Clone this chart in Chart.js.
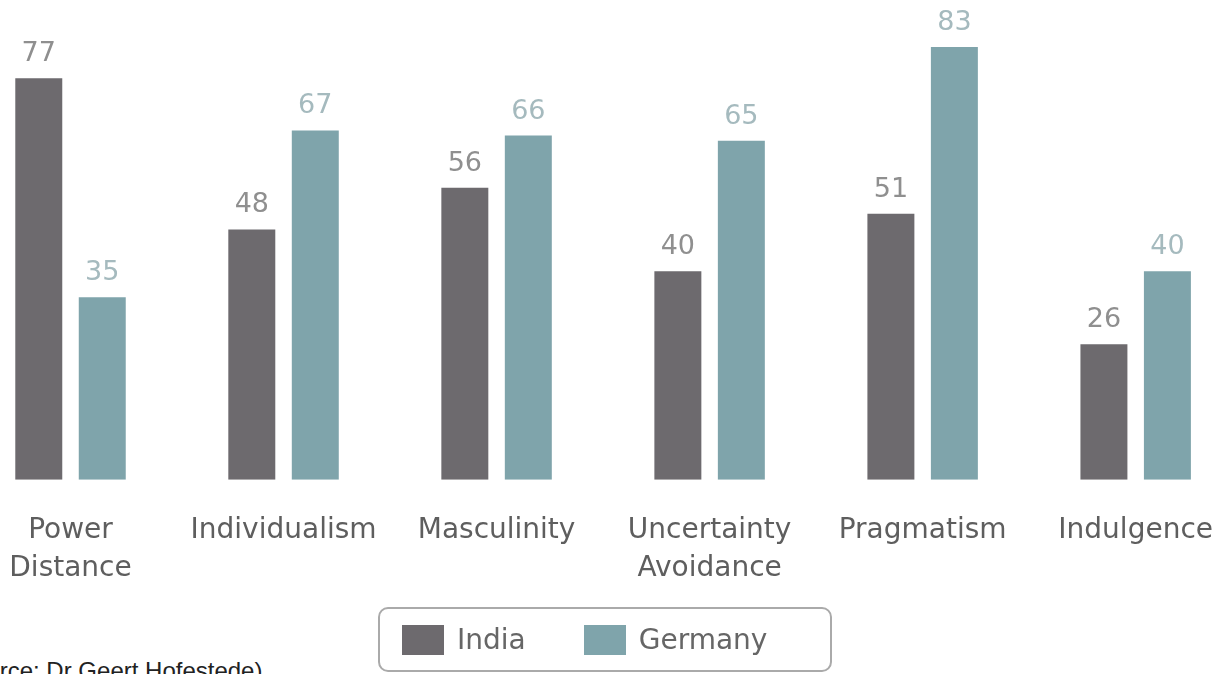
<!DOCTYPE html>
<html>
<head>
<meta charset="utf-8">
<script src="https://cdn.jsdelivr.net/npm/chart.js@4.4.1/dist/chart.umd.min.js"></script>
<style>
  html, body { margin: 0; padding: 0; background: #fff; overflow: hidden; }
  body { width: 1226px; height: 674px; position: relative; }
  #wrap { position: absolute; left: -36px; top: 0; width: 1281px; height: 632px; }
  #legend {
    position: absolute; left: 378px; top: 607px; width: 450px; height: 61px;
    border: 2px solid #aaa; border-radius: 10px;
    display: flex; align-items: center; box-sizing: content-box;
    font-family: "DejaVu Sans", sans-serif; font-size: 28px; color: #666;
  }
  #legend .item { display: flex; align-items: center; margin-left: 22px; }
  #legend .item + .item { margin-left: 58px; }
  #legend .box { width: 42px; height: 30px; margin-right: 13px; }
  #source {
    position: absolute; left: -51px; top: 659px; white-space: nowrap;
    font-family: "Liberation Sans", Arial, sans-serif; font-size: 24px; line-height: 24px; color: #222;
  }
</style>
</head>
<body>
<div id="wrap"><canvas id="hofstedeChart" width="1281" height="632"></canvas></div>
<div id="legend"></div>
<div id="source">(Source: Dr Geert Hofestede)</div>
<script>
(function () {
    "use strict";

var categories = [["Power", "Distance"], "Individualism", "Masculinity", ["Uncertainty", "Avoidance"], "Pragmatism", "Indulgence"];
var india = [77, 48, 56, 40, 51, 26];
var germany = [35, 67, 66, 65, 83, 40];

// value labels above each bar
var valueLabels = {
    id: 'valueLabels',
    afterDatasetsDraw: function (chart) {
        var ctx = chart.ctx;
        ctx.save();
        ctx.font = '27px "DejaVu Sans", sans-serif';
        ctx.textAlign = 'center';
        ctx.textBaseline = 'alphabetic';
        chart.data.datasets.forEach(function (ds, i) {
            ctx.fillStyle = ds.labelColor;
            chart.getDatasetMeta(i).data.forEach(function (bar, j) {
                ctx.fillText(ds.data[j], bar.x, bar.y - 17);
            });
        });
        ctx.restore();
    }
};

var ctx = document.getElementById("hofstedeChart");
var myChart = new Chart(ctx, {
    type: 'bar',
    data: {
        labels: categories,
        datasets: [
            {
                label: "India",
                data: india,
                backgroundColor: "#6d6a6e",
                labelColor: "#8f8f8f"
            },
            {
                label: "Germany",
                data: germany,
                backgroundColor: "#7fa4ab",
                labelColor: "#a5babe"
            }
        ]
    },
    options: {
        responsive: false,
        animation: false,
        categoryPercentage: 0.596,
        barPercentage: 0.74,
        layout: { padding: { top: 0, left: 0, right: 0, bottom: 12 } },
        plugins: {
            legend: { display: false },
            tooltip: { enabled: false }
        },
        scales: {
            y: {
                display: false,
                min: 0,
                max: 92
            },
            x: {
                grid: { display: false, drawTicks: false },
                border: { display: false },
                ticks: {
                    padding: 32,
                    color: '#5e5e5e',
                    font: { family: '"DejaVu Sans", sans-serif', size: 28, lineHeight: 1.36 }
                }
            }
        }
    },
    plugins: [valueLabels]
});

// html legend built from the datasets
var legend = document.getElementById('legend');
myChart.data.datasets.forEach(function (ds) {
    var item = document.createElement('div');
    item.className = 'item';
    var box = document.createElement('span');
    box.className = 'box';
    box.style.background = ds.backgroundColor;
    var txt = document.createElement('span');
    txt.textContent = ds.label;
    item.appendChild(box);
    item.appendChild(txt);
    legend.appendChild(item);
});

})();
</script>
</body>
</html>
